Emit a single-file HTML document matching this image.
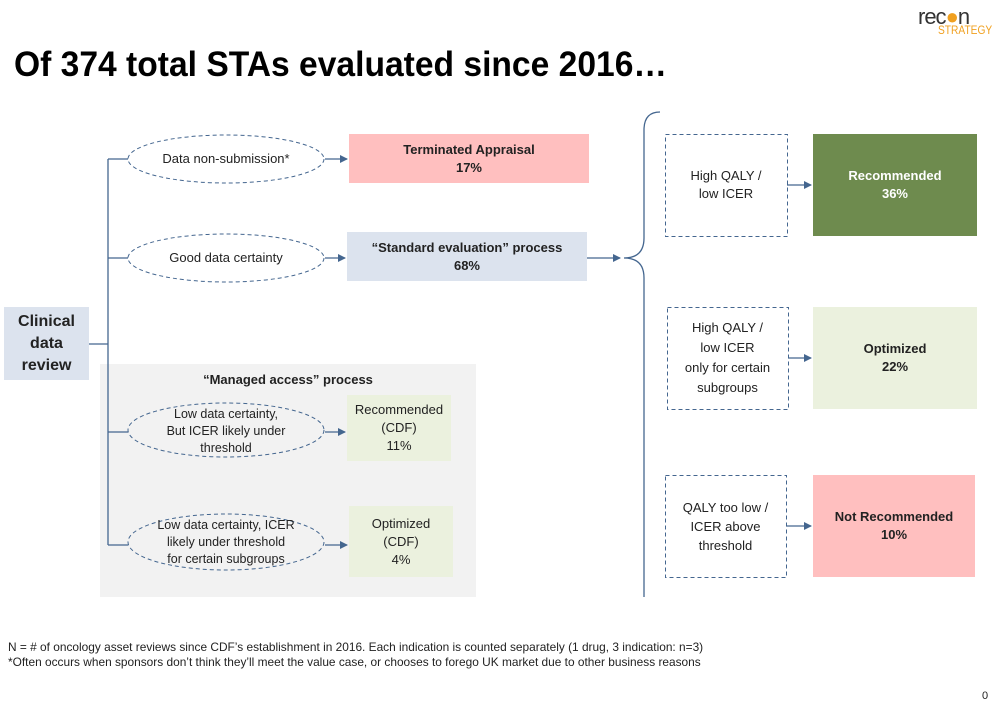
<!DOCTYPE html>
<html><head><meta charset="utf-8"><style>
body{margin:0;width:1008px;height:720px;background:#fff;position:relative;overflow:hidden;font-family:"Liberation Sans",sans-serif;color:#222}
.a{position:absolute}
.c{display:flex;align-items:center;justify-content:center;text-align:center;font-size:13px;line-height:18px}
.b{font-weight:bold}
</style></head><body>
<div class="a" style="left:918px;top:6px;font-size:22px;color:#333;letter-spacing:-1px;line-height:22px">rec<span style="color:#f0a020">●</span>n</div>
<div class="a" style="left:938px;top:24px;font-size:12px;color:#f0a020;line-height:12px;transform:scaleX(.85);transform-origin:left">STRATEGY</div>
<div class="a b" style="left:14px;top:44px;font-size:35px;line-height:42px;color:#000;transform:scaleX(.96);transform-origin:left;white-space:nowrap">Of 374 total STAs evaluated since 2016…</div>

<div class="a" style="left:100px;top:364px;width:376px;height:233px;background:#f2f2f2"></div>
<div class="a c b" style="left:100px;top:370px;width:376px;height:20px">“Managed access” process</div>

<svg class="a" style="left:0;top:0" width="1008" height="720">
<defs><marker id="m" markerWidth="8" markerHeight="8" refX="7" refY="4" orient="auto" markerUnits="userSpaceOnUse"><path d="M0,0L8,4L0,8z" fill="#44668f"/></marker></defs>
<g stroke="#44668f" stroke-width="1.3" fill="none">
<path d="M89,344H108M108,159V545M108,159H128M108,258H128M108,432H128M108,545H128"/>
<g marker-end="url(#m)">
<path d="M325,159H347"/><path d="M325,258H345"/><path d="M325,432H345"/><path d="M325,545H347"/>
<path d="M587,258H620"/><path d="M787,185H811"/><path d="M788,358H811"/><path d="M786,526H811"/>
</g>
<path d="M660,112Q644,112 644,130V238Q644,258 624,258Q644,258 644,278V597"/>
</g>
<g stroke="#44668f" stroke-width="1" fill="none" stroke-dasharray="4,3">
<ellipse cx="226" cy="159" rx="98" ry="24"/>
<ellipse cx="226" cy="258" rx="98" ry="24"/>
<ellipse cx="226" cy="430" rx="98" ry="27"/>
<ellipse cx="226" cy="542" rx="98" ry="28"/>
<rect x="665.5" y="134.5" width="122" height="102"/>
<rect x="667.5" y="307.5" width="121" height="102"/>
<rect x="665.5" y="475.5" width="121" height="102"/>
</g>
</svg>

<div class="a c b" style="left:4px;top:307px;width:85px;height:73px;background:#dce3ee;font-size:16px;line-height:22px">Clinical<br>data<br>review</div>
<div class="a c" style="left:128px;top:134px;width:196px;height:50px">Data non-submission*</div>
<div class="a c" style="left:128px;top:233px;width:196px;height:50px">Good data certainty</div>
<div class="a c" style="left:128px;top:403px;width:196px;height:56px;font-size:12.5px;line-height:17px">Low data certainty,<br>But ICER likely under<br>threshold</div>
<div class="a c" style="left:128px;top:514px;width:196px;height:57px;font-size:12.5px;line-height:17px">Low data certainty, ICER<br>likely under threshold<br>for certain subgroups</div>
<div class="a c b" style="left:349px;top:134px;width:240px;height:49px;background:#ffbfbf">Terminated Appraisal<br>17%</div>
<div class="a c b" style="left:347px;top:232px;width:240px;height:49px;background:#dce3ee">“Standard evaluation” process<br>68%</div>
<div class="a c" style="left:347px;top:395px;width:104px;height:66px;background:#ebf1de">Recommended<br>(CDF)<br>11%</div>
<div class="a c" style="left:349px;top:506px;width:104px;height:71px;background:#ebf1de">Optimized<br>(CDF)<br>4%</div>
<div class="a c" style="left:665px;top:134px;width:122px;height:102px">High QALY /<br>low ICER</div>
<div class="a c" style="left:667px;top:307px;width:121px;height:102px;line-height:20px">High QALY /<br>low ICER<br>only for certain<br>subgroups</div>
<div class="a c" style="left:665px;top:475px;width:121px;height:102px;line-height:19px">QALY too low /<br>ICER above<br>threshold</div>
<div class="a c b" style="left:813px;top:134px;width:164px;height:102px;background:#6e8b4e;color:#fff">Recommended<br>36%</div>
<div class="a c b" style="left:813px;top:307px;width:164px;height:102px;background:#ebf1de">Optimized<br>22%</div>
<div class="a c b" style="left:813px;top:475px;width:162px;height:102px;background:#ffbfbf">Not Recommended<br>10%</div>

<div class="a" style="left:8px;top:640px;font-size:12px;line-height:15px;color:#222;white-space:nowrap;transform:scaleX(.99);transform-origin:left">N = # of oncology asset reviews since CDF’s establishment in 2016. Each indication is counted separately (1 drug, 3 indication: n=3)<br>*Often occurs when sponsors don’t think they’ll meet the value case, or chooses to forego UK market due to other business reasons</div>
<div class="a" style="left:982px;top:690px;font-size:11px">0</div>
</body></html>
